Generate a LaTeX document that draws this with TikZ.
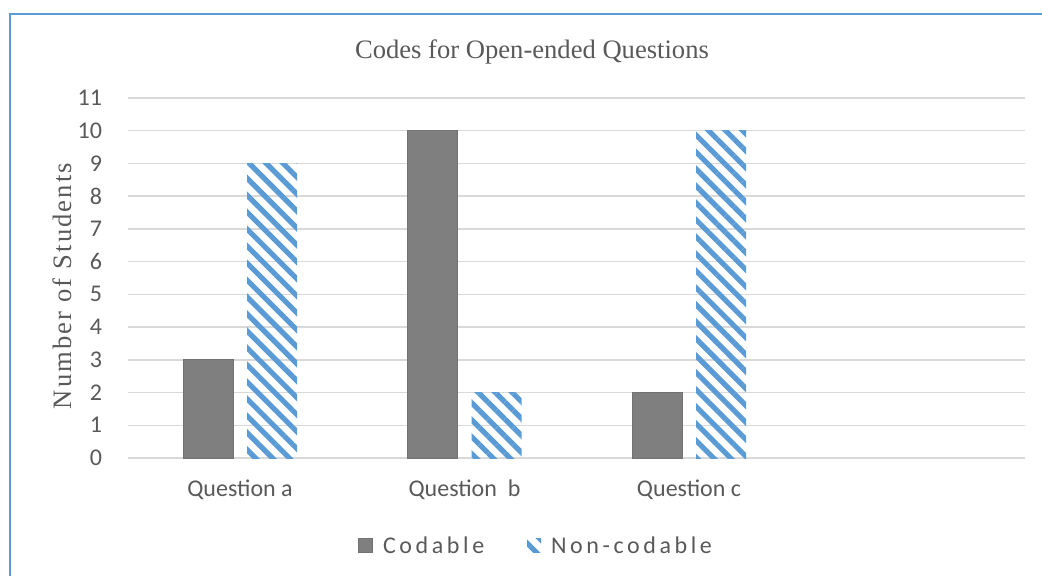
\documentclass[tikz,border=0pt]{standalone}
\usepackage{fontspec}
\setmainfont{Liberation Serif}
\newfontfamily\tickfont{Carlito}
\newfontfamily\keyfont[LetterSpace=15]{Carlito}
\newfontfamily\axisfont[LetterSpace=8]{Liberation Serif}
\usetikzlibrary{patterns.meta}
\definecolor{frameblue}{HTML}{5B9BD5}
\definecolor{gridgray}{HTML}{D9D9D9}
\definecolor{bargray}{HTML}{7F7F7F}
\definecolor{textgray}{HTML}{595959}
\tikzset{
  tick/.style={anchor=east,text=textgray,font=\tickfont\fontsize{12}{14}\selectfont},
  catlabel/.style={text=textgray,font=\tickfont\fontsize{12}{14}\selectfont},
  keylabel/.style={anchor=west,text=textgray,font=\keyfont\fontsize{12}{14}\selectfont},
  codable/.style={fill=bargray,draw=bargray!90!black,line width=0.5pt},
  noncodable/.style={pattern={Lines[angle=-45,distance=6pt,line width=2.6pt]},pattern color=frameblue}
}
\begin{document}
\begin{tikzpicture}[x=0.5pt,y=-0.5pt]
  \useasboundingbox (0,0) rectangle (1042,576);
  \draw[frameblue,line width=1pt] (10,576) -- (10,14) -- (1042,14);

  \node[text=textgray,font=\fontsize{13.3}{16}\selectfont] (title) at (532,52) {Codes for Open-ended Questions};
  \node[text=textgray,rotate=90,font=\axisfont\fontsize{13.3}{16}\selectfont] (ylabel) at (62,286) {Number of Students};

  % grid and y ticks
  \foreach \v in {0,...,11} {
    \draw[gridgray,line width=0.75pt] (128,{458-32.73*\v}) -- (1025,{458-32.73*\v});
    \node[tick] (t\v) at (109,{458-32.73*\v}) {\v};
  }

  % bars: group / codable / non-codable
  \foreach \g/\c/\n in {0/3/9,1/10/2,2/2/10} {
    \pgfmathsetmacro{\xc}{240+224.5*\g}
    \fill[codable] ({\xc-57},458) rectangle ({\xc-7},{458-32.73*\c});
    \fill[noncodable] ({\xc+7},458) rectangle ({\xc+57},{458-32.73*\n});
  }

  \node[catlabel] (qa) at (240,490) {Question a};
  \node[catlabel] (qb) at (464.5,490) {Question\ \ b};
  \node[catlabel] (qc) at (689,490) {Question c};

  % legend
  \fill[codable] (358,538) rectangle (372,552);
  \node[keylabel] (kcod) at (376,545) {Codable};
  \fill[noncodable] (527,538) rectangle (541,552);
  \node[keylabel] (knon) at (544,545) {Non-codable};
\end{tikzpicture}
\end{document}
